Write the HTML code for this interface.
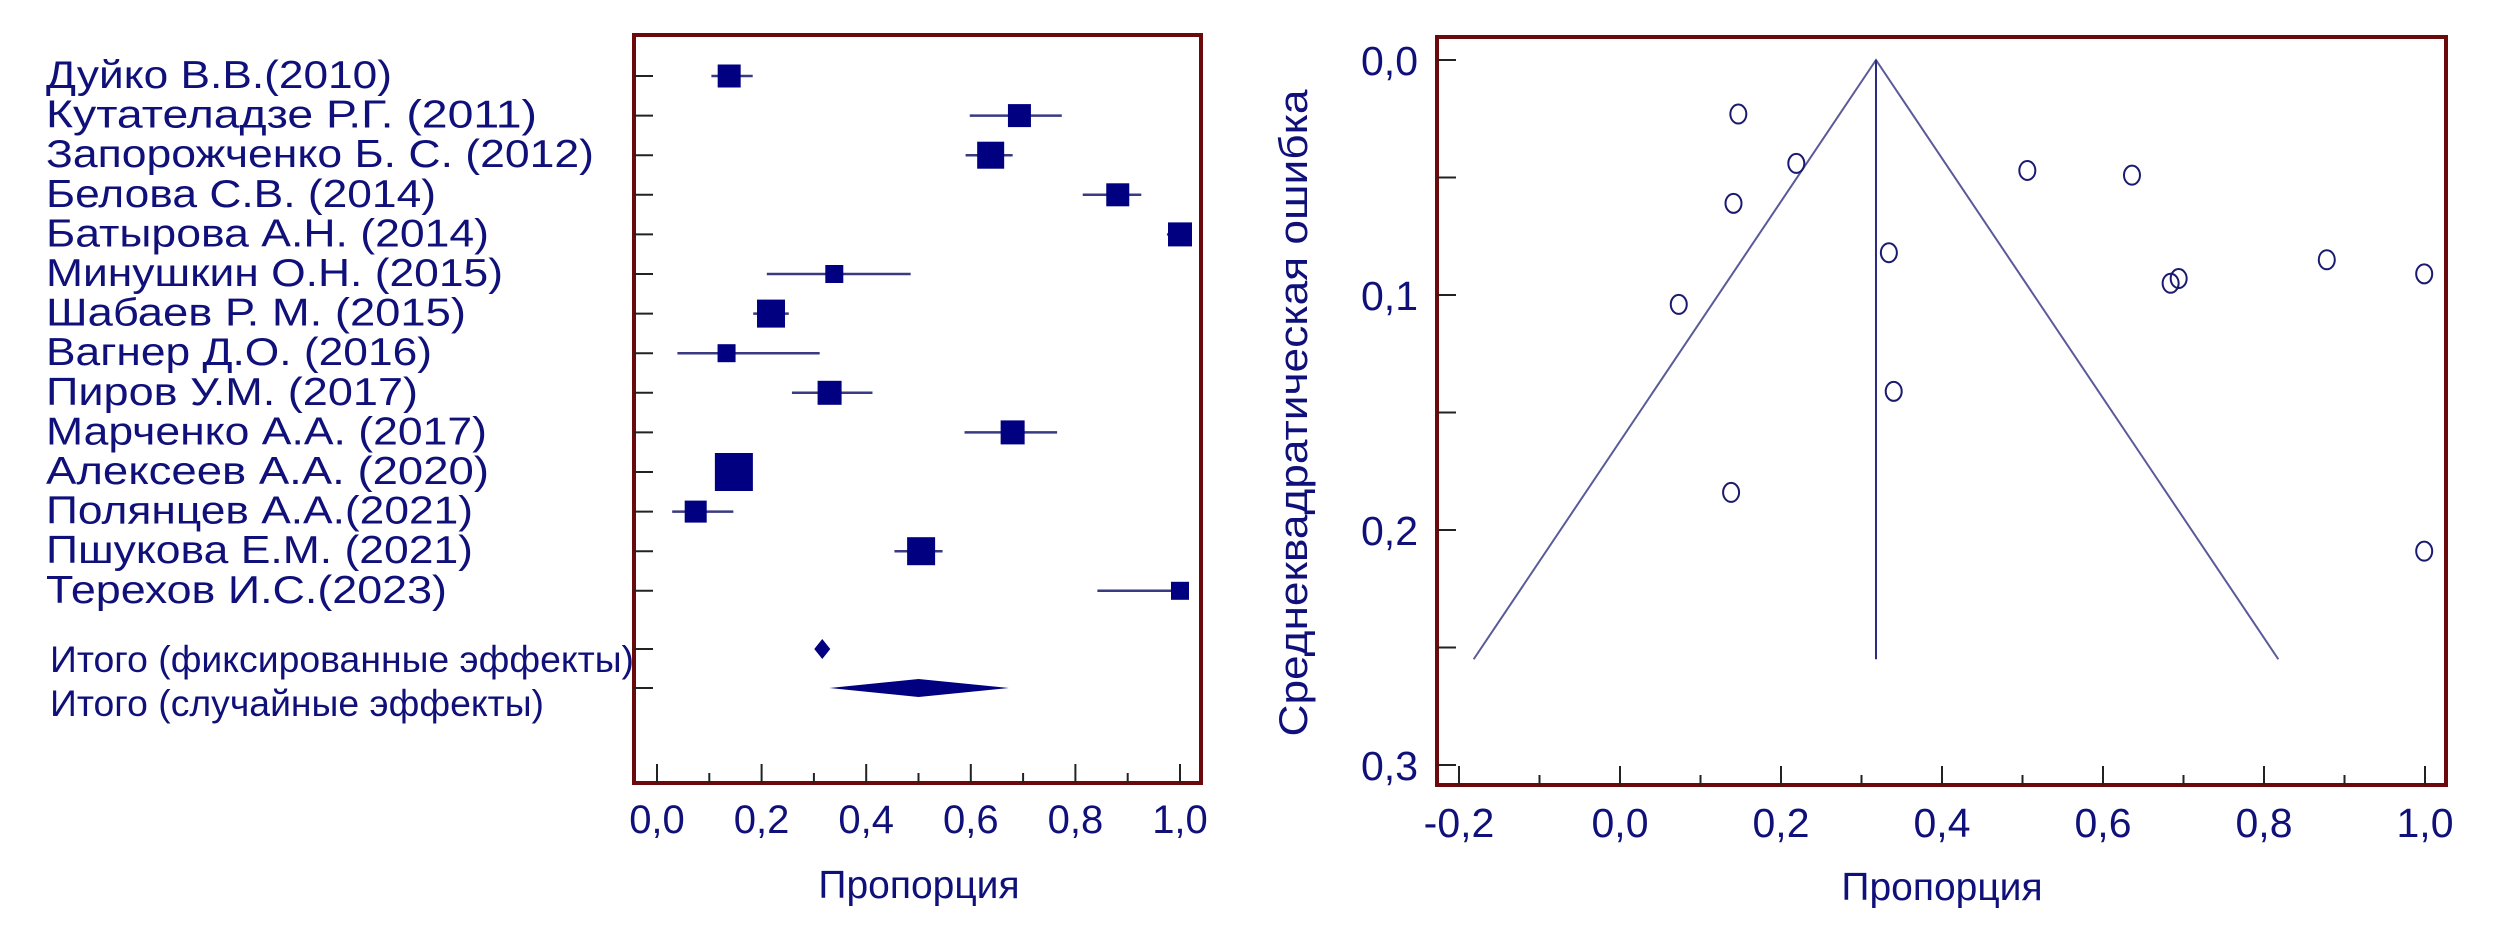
<!DOCTYPE html>
<html><head><meta charset="utf-8">
<style>
html,body{margin:0;padding:0;background:#fff;}
svg{display:block;}
text{font-family:"Liberation Sans",Arial,sans-serif;fill:#10107a;}
</style></head>
<body>
<svg id="chart" width="2519" height="938" viewBox="0 0 2519 938" xmlns="http://www.w3.org/2000/svg">
<g id="forest"></g>
<g id="funnel"></g>
</svg>
<script>
// ---------- Forest plot data ----------
const studies = ["Дуйко В.В.(2010)","Кутателадзе Р.Г. (2011)","Запорожченко Б. С. (2012)","Белова С.В. (2014)","Батырова А.Н. (2014)","Минушкин О.Н. (2015)","Шабаев Р. М. (2015)","Вагнер Д.О. (2016)","Пиров У.М. (2017)","Марченко А.А. (2017)","Алексеев  А.А. (2020)","Полянцев А.А.(2021)","Пшукова Е.М. (2021)","Терехов И.С.(2023)"];
const props = [0.138,0.693,0.638,0.881,1.0,0.339,0.218,0.133,0.330,0.680,0.147,0.074,0.505,1.0];
const ciLow = [0.104,0.598,0.590,0.814,0.975,0.210,0.184,0.039,0.258,0.588,0.120,0.029,0.454,0.842];
const ciHigh = [0.183,0.774,0.680,0.926,1.0,0.485,0.252,0.311,0.412,0.765,0.175,0.146,0.546,1.0];
const weights = [23,23,27,23,24,18,28,18,24,24,38,22,28,18];
const pooledLabels = ["Итого (фиксированные эффекты)","Итого (случайные эффекты)"];
const fixedEst = [0.316];
const randomEst = [0.330,0.500,0.673];
const forestTicks = [0,0.2,0.4,0.6,0.8,1.0];
const forestTickLabels = ["0,0","0,2","0,4","0,6","0,8","1,0"];

// ---------- Funnel plot data ----------
const funnelProps = [0.147,0.219,0.141,0.073,0.138,0.334,0.340,0.506,0.636,0.684,0.694,0.878,0.999,0.999];
const funnelSE = [0.023,0.044,0.061,0.104,0.184,0.082,0.141,0.047,0.049,0.095,0.093,0.085,0.091,0.209];
const pooledProp = [0.318];
const funnelMaxSE = [0.255];
const funnelXTicks = [-0.2,0,0.2,0.4,0.6,0.8,1.0];
const funnelXTickLabels = ["-0,2","0,0","0,2","0,4","0,6","0,8","1,0"];
const funnelYTicks = [0,0.1,0.2,0.3];
const funnelYTickLabels = ["0,0","0,1","0,2","0,3"];

const NS="http://www.w3.org/2000/svg";
function mk(parent,tag,attrs){const e=document.createElementNS(NS,tag);for(const k in attrs)e.setAttribute(k,attrs[k]);parent.appendChild(e);return e;}
const NAVY="#000080", FRAME="#6b0a0a";

// ===== Forest =====
const F=document.getElementById('forest');
const fx0=634,fx1=1201,fy0=35,fy1=783;
const fxs=v=>657+v*523;
const rowY=i=>76+i*39.6;
const labelEnds=[392,537,594,436,489,503,466,432,418,487,489,473,473,447];
let fr=mk(F,'rect',{x:fx0,y:fy0,width:fx1-fx0,height:fy1-fy0,fill:'none',stroke:FRAME,'stroke-width':4});


for(let k=0;k<=10;k++){const v=k/10;const x=fxs(v);const len=(k%2==0)?19:10;
 let t=mk(F,'line',{x1:x,y1:fy1,x2:x,y2:fy1-len,stroke:'#222','stroke-width':2});
 
 }
forestTicks.forEach((v,i)=>{let t=mk(F,'text',{x:fxs(v),y:833,'font-size':40,'text-anchor':'middle'});t.textContent=forestTickLabels[i];
 
 });
let fxt=mk(F,'text',{x:919,y:898,'font-size':39,'text-anchor':'middle'});fxt.textContent="Пропорция";


studies.forEach((s,i)=>{
 const y=rowY(i);
 let tk=mk(F,'line',{x1:fx0,y1:y,x2:fx0+19,y2:y,stroke:'#222','stroke-width':2});
 
 
 let lb=mk(F,'text',{x:46,y:y+12,'font-size':39,textLength:labelEnds[i]-46,lengthAdjust:'spacingAndGlyphs'});lb.textContent=s;
 
 
 let ci=mk(F,'line',{x1:fxs(ciLow[i]),y1:y,x2:fxs(ciHigh[i]),y2:y,stroke:'#3a3a80','stroke-width':2.5});
 
 
 const w=weights[i];
 let sq=mk(F,'rect',{x:fxs(props[i])-w/2,y:y-w/2,width:w,height:w,fill:NAVY});
 
 
});
const fixY=649, rndY=688;
[fixY,rndY].forEach((y,i)=>{
 let tk=mk(F,'line',{x1:fx0,y1:y,x2:fx0+19,y2:y,stroke:'#222','stroke-width':2});
 
 
 let lb=mk(F,'text',{x:50,y:y+(i==0?23:28),'font-size':37,textLength:(i==0?634:544)-50,lengthAdjust:'spacingAndGlyphs'});lb.textContent=pooledLabels[i];
 
 
});
{const cx=fxs(fixedEst[0]);
 let d=mk(F,'polygon',{points:`${cx-8},${fixY} ${cx},${fixY-10} ${cx+8},${fixY} ${cx},${fixY+10}`,fill:NAVY});
 
 }
{const a=fxs(randomEst[0]),c=fxs(randomEst[1]),b=fxs(randomEst[2]);
 let d=mk(F,'polygon',{points:`${a},${rndY} ${c},${rndY-9} ${b},${rndY} ${c},${rndY+9}`,fill:NAVY});
 
 }

// ===== Funnel =====
const G=document.getElementById('funnel');
const gx0=1437,gx1=2446,gy0=37,gy1=785;
const gxs=v=>1620+v*805;
const gys=v=>60+v*2350;
let fr2=mk(G,'rect',{x:gx0,y:gy0,width:gx1-gx0,height:gy1-gy0,fill:'none',stroke:FRAME,'stroke-width':4});


for(let k=-2;k<=10;k++){const v=k/10;const x=gxs(v);const len=(k%2==0)?19:10;
 let t=mk(G,'line',{x1:x,y1:gy1,x2:x,y2:gy1-len,stroke:'#222','stroke-width':2});
 
 }
funnelXTicks.forEach((v,i)=>{let t=mk(G,'text',{x:gxs(v),y:837,'font-size':41,'text-anchor':'middle'});t.textContent=funnelXTickLabels[i];
 
 });
for(let k=0;k<=6;k++){const y=gys(k*0.05);
 let t=mk(G,'line',{x1:gx0,y1:y,x2:gx0+19,y2:y,stroke:'#222','stroke-width':2});
 
 }
funnelYTicks.forEach((v,i)=>{let t=mk(G,'text',{x:1418,y:gys(v)+15,'font-size':41,'text-anchor':'end'});t.textContent=funnelYTickLabels[i];
 
 });
let gxt=mk(G,'text',{x:1942,y:900,'font-size':39,'text-anchor':'middle'});gxt.textContent="Пропорция";


let gyt=mk(G,'text',{x:0,y:0,'font-size':40,'text-anchor':'middle',transform:'translate(1307,413) rotate(-90)',textLength:647,lengthAdjust:'spacingAndGlyphs'});gyt.textContent="Среднеквадратическая ошибка";


{const p=pooledProp[0],m=funnelMaxSE[0];
 let l1=mk(G,'polyline',{points:`${gxs(p-1.96*m)},${gys(m)} ${gxs(p)},${gys(0)} ${gxs(p+1.96*m)},${gys(m)}`,fill:'none',stroke:'#5a5a9a','stroke-width':2});
 
 
 let l2=mk(G,'line',{x1:gxs(p),y1:gys(0),x2:gxs(p),y2:gys(m),stroke:'#2a2a80','stroke-width':2});
 
 }
funnelProps.forEach((v,i)=>{
 let c=mk(G,'ellipse',{cx:gxs(v),cy:gys(funnelSE[i]),rx:8,ry:9.5,fill:'none',stroke:'#1a1a70','stroke-width':2});
 
 
});
</script>
</body></html>
